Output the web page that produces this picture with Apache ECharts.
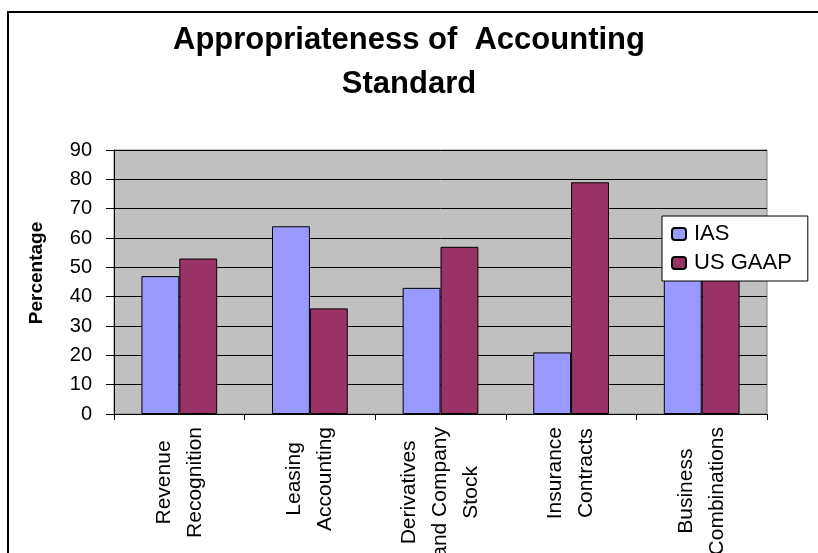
<!DOCTYPE html>
<html>
<head>
<meta charset="utf-8">
<script src="https://cdn.jsdelivr.net/npm/echarts@6/dist/echarts.min.js"></script>
<style>
html,body{margin:0;padding:0;background:#fff;}
#chart{width:818px;height:553px;}
</style>
</head>
<body>
<div id="chart"></div>
<script>
const categories = ['Revenue\nRecognition', 'Leasing\nAccounting', 'Derivatives\nand Company\nStock', 'Insurance\nContracts', 'Business\nCombinations'];
const iasValues = [47, 64, 43, 21, 50];
const usGaapValues = [53, 36, 57, 79, 50];
const yTicks = [0, 10, 20, 30, 40, 50, 60, 70, 80, 90];

const FONT = '"Liberation Sans", Arial, sans-serif';
const labelSize = 21;

const chart = echarts.init(document.getElementById('chart'));
chart.setOption({
  animation: false,
  backgroundColor: '#fff',
  title: {
    text: 'Appropriateness of  Accounting\nStandard',
    left: 'center',
    top: 13,
    textStyle: { fontFamily: FONT, fontWeight: 'bold', fontSize: 31, lineHeight: 44, color: '#000' }
  },
  graphic: [{
    type: 'rect', silent: true, z: 100,
    shape: { x: 8, y: 12, width: 900, height: 700 },
    style: { fill: 'none', stroke: '#000', lineWidth: 2 }
  }],
  legend: {
    orient: 'vertical',
    left: 662, top: 216,
    padding: [7, 16, 7, 9],
    itemGap: 7,
    itemWidth: 14, itemHeight: 12,
    backgroundColor: '#fff',
    borderColor: '#000', borderWidth: 1,
    textStyle: { fontFamily: FONT, fontSize: 22, color: '#000', padding: [0, 0, 0, 3] },
    data: ['IAS', 'US GAAP']
  },
  grid: {
    left: 114, right: 51, top: 150, bottom: 139,
    outerBoundsMode: 'none',
    containLabel: false,
    show: true, backgroundColor: '#C0C0C0', borderColor: '#808080', borderWidth: 1
  },
  xAxis: {
    type: 'category',
    data: categories,
    axisLine: { lineStyle: { color: '#000', width: 1 } },
    axisTick: { show: true, length: 6, lineStyle: { color: '#000' } },
    axisLabel: {
      rotate: 90, margin: 13, interval: 0,
      formatter: v => v.split('\n').map(s => '{c|' + s + '}').join('\n'),
      rich: { c: { align: 'center', fontSize: labelSize, fontFamily: FONT, color: '#000', lineHeight: 31 } },
      fontSize: labelSize, fontFamily: FONT, color: '#000', lineHeight: 31
    },
    splitLine: { show: false }
  },
  yAxis: {
    type: 'value',
    min: yTicks[0], max: yTicks[yTicks.length - 1], interval: 10,
    name: 'Percentage',
    nameLocation: 'middle',
    nameGap: 68,
    nameRotate: 90,
    nameTextStyle: { fontFamily: FONT, fontWeight: 'bold', fontSize: 19, color: '#000', padding: [0, 0, 0, 18] },
    axisLine: { show: true, lineStyle: { color: '#000', width: 1 } },
    axisTick: { show: true, length: 8, lineStyle: { color: '#000' } },
    axisLabel: { margin: 22, fontFamily: FONT, fontSize: 20, color: '#000' },
    splitLine: { show: true, lineStyle: { color: '#000', width: 1 } }
  },
  series: [
    {
      name: 'IAS', type: 'bar', data: iasValues,
      barGap: '0%', barCategoryGap: '42%',
      itemStyle: { color: '#9999FF', borderColor: '#000', borderWidth: 1 }
    },
    {
      name: 'US GAAP', type: 'bar', data: usGaapValues,
      barGap: '0%', barCategoryGap: '42%',
      itemStyle: { color: '#993366', borderColor: '#000', borderWidth: 1 }
    }
  ]
});
</script>
</body>
</html>
